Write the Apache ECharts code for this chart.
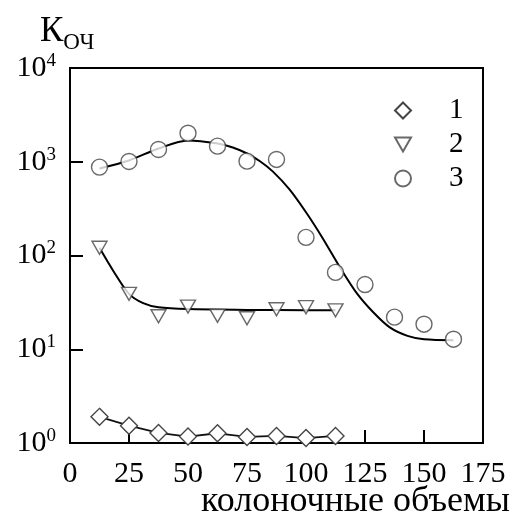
<!DOCTYPE html>
<html>
<head>
<meta charset="utf-8">
<script src="https://cdn.jsdelivr.net/npm/echarts@6/dist/echarts.min.js"></script>
<style>
  html, body { margin: 0; padding: 0; background: #fff; }
  #chart { width: 512px; height: 522px; }
</style>
</head>
<body>
<div id="chart"></div>
<script>
// Column volumes at which samples were taken
const volumes = [12.5, 25, 37.5, 50, 62.5, 75, 87.5, 100, 112.5, 125, 137.5, 150, 162.5];

// Measured purification coefficients
const series1 = [1.9, 1.53, 1.28, 1.17, 1.27, 1.16, 1.19, 1.13, 1.19];
const series2 = [121, 39, 22.5, 28.5, 22.7, 21.4, 26.7, 28.1, 26];
const series3 = [877, 1007, 1352, 2017, 1466, 1015, 1058, 156, 66, 49, 22, 18.5, 12.8];

// Fitted curves
const fit2X = [12.5, 18.75, 25, 31, 37.5, 50, 75, 100, 112.5];
const fit2Y = [121, 66, 39, 31, 28, 26.8, 26.3, 26.1, 26];
const fit3X = [12.5, 25, 37.5, 50, 62.5, 69, 75, 80.5, 86, 93, 100, 107, 114.5, 121.5, 128.5, 135.5, 143, 150, 162.5];
const fit3Y = [849, 1032, 1386, 1686, 1567, 1419, 1225, 1012, 785, 507, 289, 154, 74, 39.7, 24.8, 17.1, 13.9, 12.8, 12.5];

// Axis tick labels
const xTicks = ['0', '25', '50', '75', '100', '125', '150', '175'];
const yExponents = ['0', '1', '2', '3', '4'];

const legendNames = ['1', '2', '3'];
const serif = 'Liberation Serif';
const triangleDown = 'path://M0,0L12,0L6,10.4Z';

const pairs = (xs, ys) => ys.map((y, i) => [xs[i], y]);

const markerStyle = { color: '#fff', borderColor: '#444', borderWidth: 1.4 };

const chart = echarts.init(document.getElementById('chart'), null, { renderer: 'canvas' });

chart.setOption({
  animation: false,
  backgroundColor: '#fff',
  textStyle: { fontFamily: serif, color: '#000' },
  grid: {
    left: 70, right: 29, top: 68, bottom: 79,
    show: true, borderColor: '#000', borderWidth: 2, backgroundColor: 'transparent'
  },
  legend: {
    data: [
      { name: legendNames[0], icon: 'diamond' },
      { name: legendNames[1], icon: triangleDown },
      { name: legendNames[2], icon: 'circle' }
    ],
    orient: 'vertical',
    left: 389, top: 91,
    itemWidth: 16, itemHeight: 16, itemGap: 5,
    textStyle: { fontFamily: serif, fontSize: 29, color: '#000', padding: [0, 0, 0, 33] },
    selectedMode: false
  },
  xAxis: {
    type: 'value', min: 0, max: 175, interval: 25,
    axisLine: { lineStyle: { color: '#000', width: 2 } },
    axisTick: { inside: true, length: 13, lineStyle: { color: '#000', width: 2 } },
    splitLine: { show: false },
    axisLabel: {
      margin: 16, fontSize: 30, fontFamily: serif, color: '#000',
      formatter: (v) => xTicks[Math.round(v / 25)]
    }
  },
  yAxis: {
    type: 'log', logBase: 10, min: 1, max: 10000,
    axisLine: { lineStyle: { color: '#000', width: 2 } },
    axisTick: { inside: true, length: 13, lineStyle: { color: '#000', width: 2 } },
    splitLine: { show: false },
    minorTick: { show: false },
    axisLabel: {
      margin: 14, color: '#000',
      formatter: (v) => '{b|10}{s|' + yExponents[Math.round(Math.log10(v))] + '}',
      rich: {
        b: { fontSize: 30, fontFamily: serif, color: '#000' },
        s: { fontSize: 19, fontFamily: serif, color: '#000', padding: [0, 0, 14, 0] }
      }
    }
  },
  series: [
    {
      name: 'fit2', type: 'line', data: pairs(fit2X, fit2Y), smooth: 0.3,
      showSymbol: false, symbol: 'none', silent: true,
      lineStyle: { color: '#000', width: 2 }, z: 1
    },
    {
      name: 'fit3', type: 'line', data: pairs(fit3X, fit3Y), smooth: 0.3,
      showSymbol: false, symbol: 'none', silent: true,
      lineStyle: { color: '#000', width: 2 }, z: 1
    },
    {
      name: legendNames[0], type: 'line', data: pairs(volumes, series1),
      symbol: 'diamond', symbolSize: 17, showSymbol: true,
      lineStyle: { color: '#111', width: 1.8 },
      itemStyle: markerStyle, z: 3
    },
    {
      name: legendNames[1], type: 'scatter', data: pairs(volumes, series2),
      symbol: triangleDown, symbolSize: [15, 13],
      itemStyle: markerStyle, z: 3
    },
    {
      name: legendNames[2], type: 'scatter', data: pairs(volumes, series3),
      symbol: 'circle', symbolSize: 16,
      itemStyle: markerStyle, z: 3
    }
  ],
  graphic: [
    {
      type: 'text', left: 40, top: 14,
      style: {
        text: '{k|К}{s|ОЧ}',
        rich: {
          k: { fontSize: 35, fontFamily: serif, fill: '#000' },
          s: { fontSize: 23, fontFamily: serif, fill: '#000', padding: [22, 0, 0, 0] }
        }
      }
    },
    {
      type: 'text', right: 2, top: 484,
      style: { text: 'колоночные объемы', fontSize: 36, fontFamily: serif, fill: '#000' }
    }
  ]
});
</script>
</body>
</html>
